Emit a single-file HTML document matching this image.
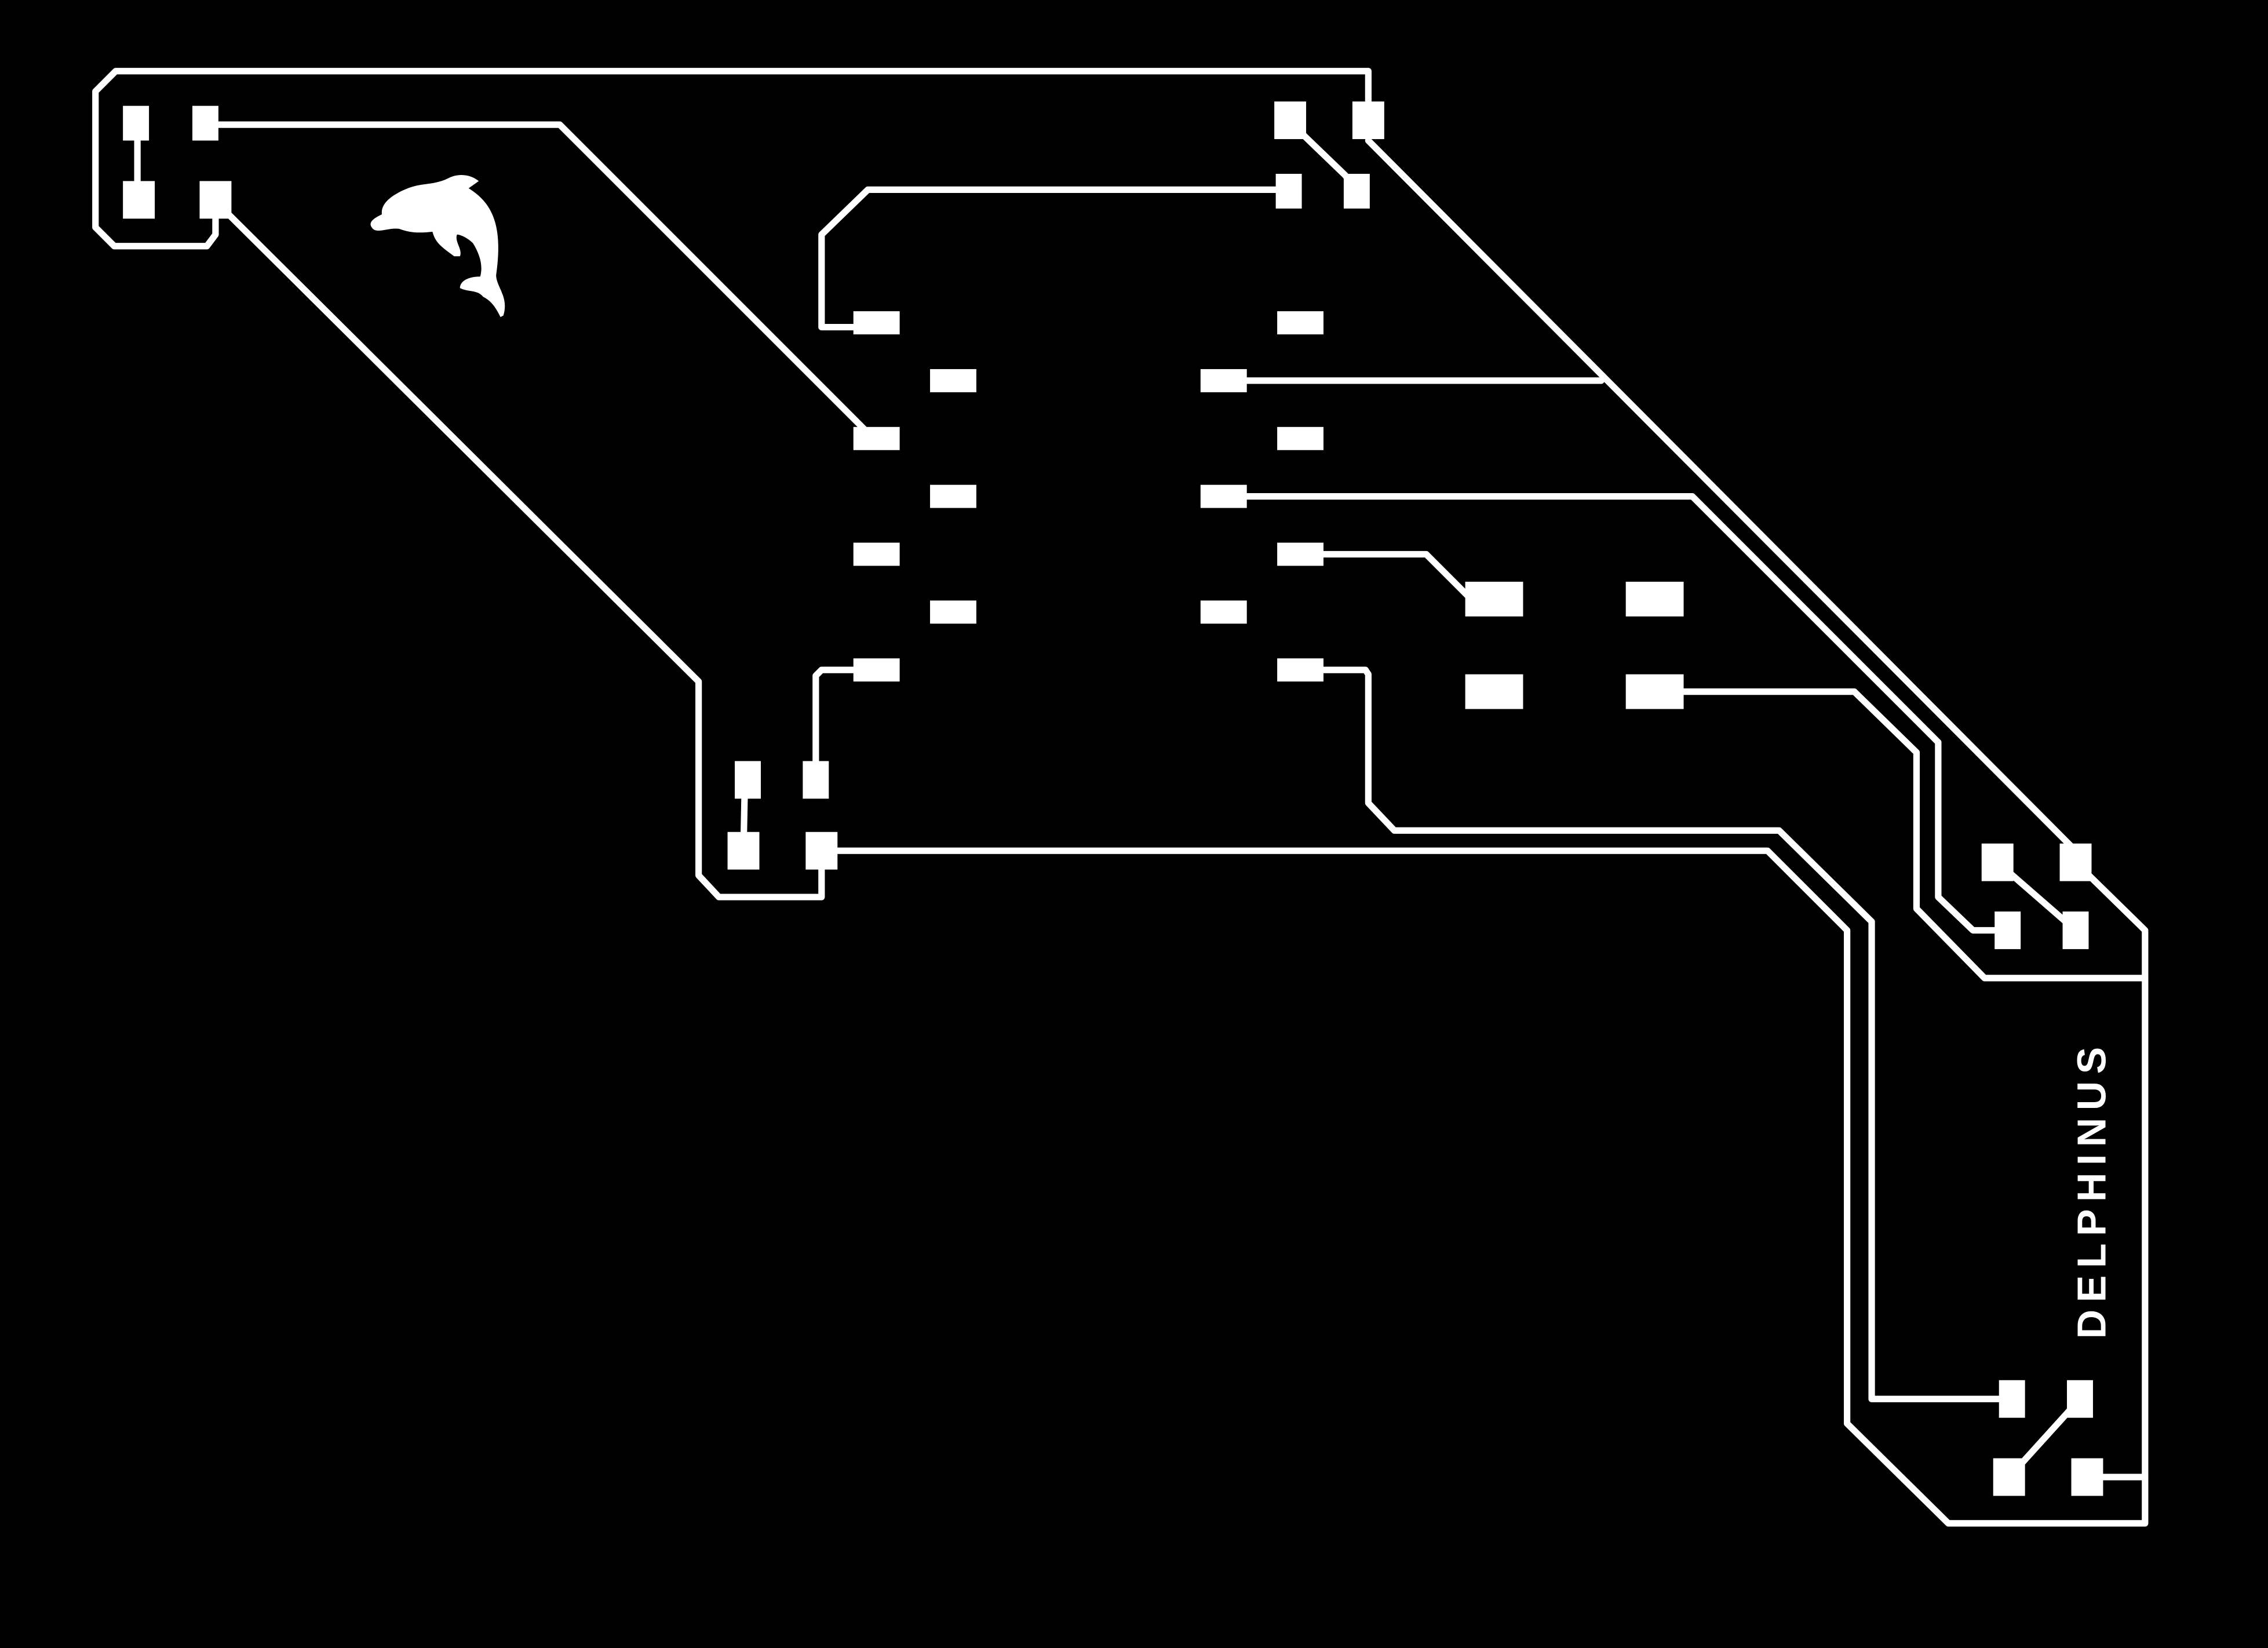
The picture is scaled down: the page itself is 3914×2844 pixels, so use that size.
<!DOCTYPE html>
<html><head><meta charset="utf-8"><style>
html,body{margin:0;padding:0;background:#000;}
svg{display:block;}
</style></head><body>
<svg width="3914" height="2844" viewBox="0 0 1568 1139" xmlns="http://www.w3.org/2000/svg">
<rect width="1568" height="1139" fill="#000"/>
<g fill="none" stroke="#fff" stroke-width="4.5" stroke-linejoin="round" stroke-linecap="round">
<polyline points="149,150 149,162 143,170 79,170 66,157 66,63 80,49 946,49 946,83"/>
<polyline points="142,86 387,86 600,299"/>
<polyline points="95,86 95,138"/>
<polyline points="149,138 158,148 483,471 483,605 497,620 568,620 568,588"/>
<polyline points="568,588 1222,588 1277,643 1277,984 1347,1053 1483,1053 1483,643 1435,596"/>
<polyline points="946,97 1435,588"/>
<polyline points="1483,676 1372,676 1325,628 1325,520 1282,478 1144,478"/>
<polyline points="846,263 1107,263"/>
<polyline points="846,343 1170,343 1340,513 1340,620 1364,643 1388,643"/>
<polyline points="1381,596 1435,643"/>
<polyline points="891,83 903,95 930,121 938,132"/>
<polyline points="891,131 600,131 568,162 568,226 606,226"/>
<polyline points="899,383 986,383 1017,414 1033,414"/>
<polyline points="899,463 944,463 946,466 946,555 964,574 1230,574 1294,637 1294,967 1390,967"/>
<polyline points="606,463 568,463 564,467 564,539"/>
<polyline points="515,539 514,588"/>
<polyline points="1438,967 1390,1020"/>
<polyline points="1443,1021 1483,1021"/>
</g>
<g fill="#fff">
<rect x="85" y="73" width="18" height="24"/>
<rect x="133" y="73" width="18" height="24"/>
<rect x="85" y="125" width="22" height="26"/>
<rect x="138" y="125" width="22" height="26"/>
<rect x="881" y="70" width="22" height="26"/>
<rect x="935" y="70" width="22" height="26"/>
<rect x="882" y="120" width="18" height="24"/>
<rect x="929" y="120" width="18" height="24"/>
<rect x="590" y="215" width="32" height="16"/>
<rect x="883" y="215" width="32" height="16"/>
<rect x="643" y="255" width="32" height="16"/>
<rect x="830" y="255" width="32" height="16"/>
<rect x="590" y="295" width="32" height="16"/>
<rect x="883" y="295" width="32" height="16"/>
<rect x="643" y="335" width="32" height="16"/>
<rect x="830" y="335" width="32" height="16"/>
<rect x="590" y="375" width="32" height="16"/>
<rect x="883" y="375" width="32" height="16"/>
<rect x="643" y="415" width="32" height="16"/>
<rect x="830" y="415" width="32" height="16"/>
<rect x="590" y="455" width="32" height="16"/>
<rect x="883" y="455" width="32" height="16"/>
<rect x="1013" y="402" width="40" height="24"/>
<rect x="1124" y="402" width="40" height="24"/>
<rect x="1013" y="466" width="40" height="24"/>
<rect x="1124" y="466" width="40" height="24"/>
<rect x="508" y="526" width="18" height="26"/>
<rect x="555" y="526" width="18" height="26"/>
<rect x="503" y="575" width="22" height="26"/>
<rect x="557" y="575" width="22" height="26"/>
<rect x="1370" y="583" width="22" height="26"/>
<rect x="1424" y="583" width="22" height="26"/>
<rect x="1379" y="630" width="18" height="26"/>
<rect x="1426" y="630" width="18" height="26"/>
<rect x="1382" y="954" width="18" height="26"/>
<rect x="1429" y="954" width="18" height="26"/>
<rect x="1378" y="1008" width="22" height="26"/>
<rect x="1432" y="1008" width="22" height="26"/>
<path d="M257,157 C254,153 260,150 264,148 C263,140 272,134 282,130 C292,126 300,128 310,123 C318,119 326,121 331,125 L324,130 C340,140 348,155 343,190 C343,198 352,205 348,218 L346,219 C343,213 340,208 334,205 C330,200 324,202 318,199 C318,194 324,191 332,191 C334,184 332,176 327,168 C323,164 318,162 316,162 C314,167 320,172 318,177 L314,177 C306,171 301,168 299,160 C290,161 284,161 276,158 C268,157 260,162 257,157 Z"/>
</g>
<text transform="translate(1446,822) rotate(-90)" text-anchor="middle" dominant-baseline="central" fill="#fff" font-family="'Liberation Sans', sans-serif" font-size="28" font-weight="bold" letter-spacing="5">DELPHINUS</text>
</svg>
</body></html>
